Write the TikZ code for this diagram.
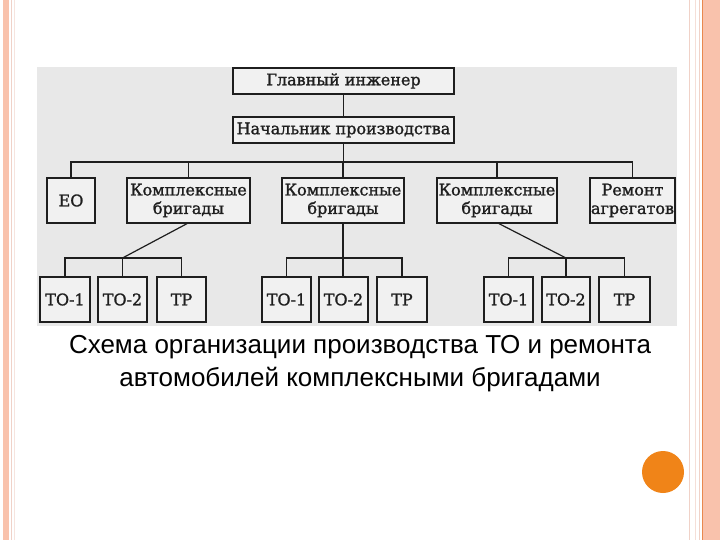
\documentclass[tikz,border=0pt]{standalone}
\usepackage{fontspec}
\setmainfont{DejaVu Serif}
\newfontfamily\diagfont[FakeBold=1.3]{DejaVu Serif}
\newfontfamily\capfont{Liberation Sans}
\definecolor{salmon}{HTML}{F9C2AC}
\definecolor{palesalmon}{HTML}{F0D2C8}
\definecolor{darkorange}{HTML}{E8884E}
\definecolor{dotorange}{HTML}{F08418}
\definecolor{scanbg}{HTML}{E8E8E8}
\definecolor{boxfill}{HTML}{F1F1F1}
\definecolor{ink}{HTML}{1E1E1E}
\tikzset{
  orgbox/.style={draw=ink, fill=boxfill, line width=1.3pt, inner sep=0pt, align=center,
    minimum height=45pt, font=\diagfont\fontsize{16}{18.5}\selectfont, text=ink},
  topbox/.style={orgbox, minimum height=26pt, minimum width=221pt},
  wire/.style={draw=ink, line width=1.2pt},
}
\begin{document}
\begin{tikzpicture}[x=1pt,y=-1pt]
\useasboundingbox (0,0) rectangle (720,540);
\fill[white] (0,0) rectangle (720,540);
% slide decorations
\fill[salmon] (3,0) rectangle (9,540);
\fill[palesalmon] (10.5,0) rectangle (11.5,540);
\fill[palesalmon!60] (13.5,0) rectangle (14.5,540);
\fill[palesalmon] (688.5,0) rectangle (690,540);
\fill[palesalmon!70] (694.5,0) rectangle (696,540);
\fill[palesalmon] (698.5,0) rectangle (700,540);
\fill[darkorange] (701.5,0) rectangle (703,540);
\fill[salmon] (703,0) rectangle (720,540);
\fill[dotorange] (663,472) circle (21);
% scanned picture background
\fill[scanbg] (37,67) rectangle (677,326);
% nodes
\node[topbox] (gi) at (343.5,81) {Главный инженер};
\node[topbox] (np) at (343.5,130) {Начальник производства};
\node[orgbox, minimum width=48pt] (eo) at (71,200.5) {ЕО};
\node[orgbox, minimum width=123pt] (k1) at (188.5,200.5) {Комплексные\\бригады};
\node[orgbox, minimum width=122pt] (k2) at (343,200.5) {Комплексные\\бригады};
\node[orgbox, minimum width=120pt] (k3) at (497,200.5) {Комплексные\\бригады};
\node[orgbox, minimum width=85pt] (ra) at (632.5,200.5) {Ремонт\\агрегатов};
\node[orgbox, minimum width=50pt] (a1) at (65,299.5) {ТО-1};
\node[orgbox, minimum width=49pt] (a2) at (122.5,299.5) {ТО-2};
\node[orgbox, minimum width=49pt] (a3) at (181.5,299.5) {ТР};
\node[orgbox, minimum width=49pt] (b1) at (286.5,299.5) {ТО-1};
\node[orgbox, minimum width=49pt] (b2) at (343.5,299.5) {ТО-2};
\node[orgbox, minimum width=50pt] (b3) at (402,299.5) {ТР};
\node[orgbox, minimum width=49pt] (c1) at (508.5,299.5) {ТО-1};
\node[orgbox, minimum width=48pt] (c2) at (566,299.5) {ТО-2};
\node[orgbox, minimum width=51pt] (c3) at (624.5,299.5) {ТР};
\coordinate (bus) at (0,162);
\coordinate (sb) at (0,258);
% connectors
\draw[wire] (gi.south) -- (np.south |- np.north);
\draw[wire] (np.south) -- (np.south |- bus);
\draw[wire] (eo.north) -- (eo.north |- bus) -| (ra.north);
\draw[wire] (k1.north |- bus) -- (k1.north);
\draw[wire] (k2.north |- bus) -- (k2.north);
\draw[wire] (k3.north |- bus) -- (k3.north);
\draw[wire] (a1.north) -- (a1.north |- sb) -| (a3.north);
\draw[wire] (a2.north |- sb) -- (a2.north);
\draw[wire] ([xshift=-1.5pt]k1.south) -- (a2.north |- sb);
\draw[wire] (b1.north) -- (b1.north |- sb) -| (b3.north);
\draw[wire] (k2.south) -- (k2.south |- b2.north);
\draw[wire] (c1.north) -- (c1.north |- sb) -| (c3.north);
\draw[wire] (c2.north |- sb) -- (c2.north);
\draw[wire] ([xshift=2pt]k3.south) -- (c2.north |- sb);
% caption
\node[font=\capfont\fontsize{26}{33}\selectfont, align=center, text=black] (cap) at (360,363.5)
  {Схема организации производства ТО и ремонта\\автомобилей комплексными бригадами};
\end{tikzpicture}
\end{document}
